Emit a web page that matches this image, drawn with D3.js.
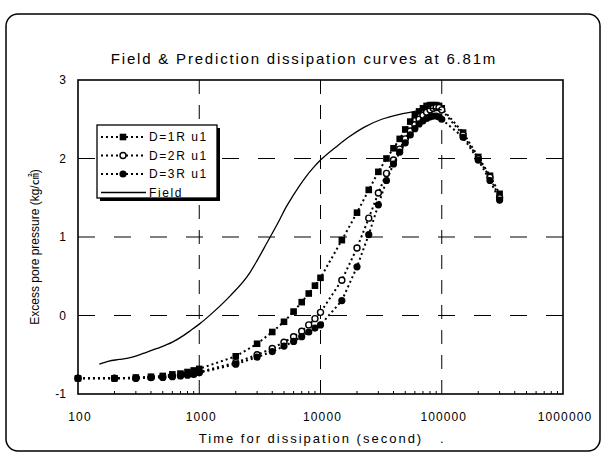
<!DOCTYPE html>
<html>
<head>
<meta charset="utf-8">
<script src="https://cdn.jsdelivr.net/npm/d3@7.9.0/dist/d3.min.js"></script>
<style>
  body { margin: 0; background: #fff; }
  svg { font-family: "Liberation Sans", Arial, sans-serif; }
</style>
</head>
<body>
<svg id="chart" width="612" height="456"></svg>
<script>
// time steps used by the prediction runs (seconds)
const times = [100, 200, 300, 400, 500, 600, 700, 800, 900, 1000,
  2000, 3000, 4000, 5000, 6000, 7000, 8000, 9000, 10000,
  15000, 20000, 25000, 30000, 35000, 40000, 45000, 50000, 55000, 60000,
  65000, 70000, 75000, 80000, 85000, 90000, 95000, 100000,
  150000, 200000, 250000, 300000];

const d1R = [-0.8, -0.8, -0.79, -0.78, -0.77, -0.75, -0.74, -0.72, -0.7, -0.68,
  -0.52, -0.36, -0.21, -0.08, 0.05, 0.17, 0.28, 0.38, 0.48,
  0.96, 1.31, 1.6, 1.83, 2.0, 2.13, 2.25, 2.37, 2.47, 2.55,
  2.6, 2.64, 2.67, 2.68, 2.68, 2.68, 2.67, 2.64,
  2.33, 2.02, 1.78, 1.55];

const d2R = [-0.8, -0.8, -0.8, -0.79, -0.78, -0.77, -0.76, -0.75, -0.74, -0.72,
  -0.6, -0.5, -0.42, -0.34, -0.27, -0.2, -0.12, -0.04, 0.04,
  0.45, 0.86, 1.24, 1.56, 1.81, 1.98, 2.12, 2.25, 2.35, 2.43,
  2.5, 2.55, 2.59, 2.62, 2.64, 2.65, 2.65, 2.62,
  2.3, 2.0, 1.76, 1.5];

const d3R = [-0.8, -0.8, -0.8, -0.79, -0.79, -0.78, -0.77, -0.76, -0.75, -0.73,
  -0.62, -0.53, -0.46, -0.39, -0.33, -0.27, -0.21, -0.16, -0.12,
  0.19, 0.62, 1.03, 1.41, 1.72, 1.93, 2.08, 2.2, 2.3, 2.38,
  2.44, 2.48, 2.51, 2.53, 2.54, 2.54, 2.53, 2.5,
  2.27, 1.98, 1.72, 1.47];

// field measurement
const fieldT = [150, 180, 220, 280, 350, 450, 600, 750, 850, 1000, 1300, 1800,
  2600, 3000, 3600, 4600, 5200, 5900, 7600, 8700, 10000, 14000, 17000, 23000,
  32000, 44000, 60000, 80000, 100000];
const fieldV = [-0.62, -0.58, -0.56, -0.53, -0.48, -0.42, -0.34, -0.25, -0.19, -0.11, 0.04, 0.25,
  0.54, 0.7, 0.92, 1.22, 1.38, 1.52, 1.77, 1.88, 1.98, 2.17, 2.27, 2.4,
  2.5, 2.56, 2.6, 2.64, 2.62];

const xTicks = [100, 1000, 10000, 100000, 1000000];
const yTicks = [-1, 0, 1, 2, 3];
const legendLabels = ['D=1R u1', 'D=2R u1', 'D=3R u1', 'Field'];

const svg = d3.select('#chart');

// outer rounded frame
svg.append('rect')
  .attr('x', 6).attr('y', 14).attr('width', 594).attr('height', 437)
  .attr('rx', 12).attr('fill', 'none').attr('stroke', '#000').attr('stroke-width', 1.5);

svg.append('text')
  .attr('x', 304).attr('y', 64)
  .attr('text-anchor', 'middle')
  .attr('font-size', 15).attr('letter-spacing', 1.8)
  .text('Field & Prediction dissipation curves at 6.81m');

const x = d3.scaleLog().domain([100, 1000000]).range([78, 563]);
const y = d3.scaleLinear().domain([-1, 3]).range([394, 80]);

// grid lines
svg.append('g').selectAll('line')
  .data(yTicks.filter(d => d > -1 && d < 3))
  .join('line')
  .attr('x1', x(100)).attr('x2', x(1000000))
  .attr('y1', d => y(d)).attr('y2', d => y(d))
  .attr('stroke', '#000').attr('stroke-width', 1)
  .attr('stroke-dasharray', '17,19');

svg.append('g').selectAll('line')
  .data(xTicks.slice(1, -1))
  .join('line')
  .attr('x1', d => x(d)).attr('x2', d => x(d))
  .attr('y1', y(3)).attr('y2', y(-1))
  .attr('stroke', '#000').attr('stroke-width', 1)
  .attr('stroke-dasharray', '14,11');

// minor ticks along the bottom axis
const minor = [];
for (let dec = 100; dec < 1000000; dec *= 10) {
  for (let k = 2; k <= 9; k++) minor.push(dec * k);
}
svg.append('g').selectAll('line')
  .data(minor)
  .join('line')
  .attr('x1', d => x(d)).attr('x2', d => x(d))
  .attr('y1', y(-1)).attr('y2', y(-1) - 3)
  .attr('stroke', '#000').attr('stroke-width', 1);

// plot frame
svg.append('rect')
  .attr('x', x(100)).attr('y', y(3))
  .attr('width', x(1000000) - x(100)).attr('height', y(-1) - y(3))
  .attr('fill', 'none').attr('stroke', '#000').attr('stroke-width', 1.6);

// tick labels
svg.append('g').selectAll('text')
  .data(xTicks)
  .join('text')
  .attr('x', d => x(d) + 2).attr('y', 421)
  .attr('text-anchor', 'middle')
  .attr('font-size', 12).attr('letter-spacing', 1.1)
  .text(d => d);

svg.append('g').selectAll('text')
  .data(yTicks)
  .join('text')
  .attr('x', 66).attr('y', d => y(d) + 4)
  .attr('text-anchor', 'end')
  .attr('font-size', 12)
  .text(d => d);

svg.append('text')
  .attr('x', 311).attr('y', 443)
  .attr('text-anchor', 'middle')
  .attr('font-size', 13).attr('letter-spacing', 2)
  .text('Time for dissipation (second)');
svg.append('text')
  .attr('x', 440).attr('y', 443)
  .attr('font-size', 13)
  .text('.');

svg.append('text')
  .attr('transform', 'translate(39,247) rotate(-90)')
  .attr('text-anchor', 'middle')
  .attr('font-size', 12)
  .style('font-family', '"Liberation Sans", Arial, "Noto Sans CJK KR", sans-serif')
  .text('Excess pore pressure (kg/㎠)');

// series
const line = d3.line().x(d => x(d[0])).y(d => y(d[1]));

const series = [
  { vals: d1R, marker: 'square' },
  { vals: d2R, marker: 'open' },
  { vals: d3R, marker: 'dot' },
];

function drawMarker(g, type, cx, cy) {
  if (type === 'square') {
    g.append('rect').attr('x', cx - 3.3).attr('y', cy - 3.3)
      .attr('width', 6.6).attr('height', 6.6).attr('fill', '#000');
  } else if (type === 'open') {
    g.append('circle').attr('cx', cx).attr('cy', cy).attr('r', 3)
      .attr('fill', '#fff').attr('stroke', '#000').attr('stroke-width', 1.4);
  } else {
    g.append('circle').attr('cx', cx).attr('cy', cy).attr('r', 3.6).attr('fill', '#000');
  }
}

series.forEach(s => {
  const pts = times.map((t, i) => [t, s.vals[i]]);
  svg.append('path')
    .attr('d', line(pts))
    .attr('fill', 'none').attr('stroke', '#000')
    .attr('stroke-width', 2).attr('stroke-dasharray', '2,3');
  const g = svg.append('g');
  pts.forEach(p => drawMarker(g, s.marker, x(p[0]), y(p[1])));
});

svg.append('path')
  .attr('d', line.curve(d3.curveMonotoneX)(fieldT.map((t, i) => [t, fieldV[i]])))
  .attr('fill', 'none').attr('stroke', '#000').attr('stroke-width', 1.3);

// legend
const lg = svg.append('g').attr('transform', 'translate(97,125)');
lg.append('rect').attr('x', 3).attr('y', 3).attr('width', 120).attr('height', 73).attr('fill', '#000');
lg.append('rect').attr('x', 0).attr('y', 0).attr('width', 120).attr('height', 73)
  .attr('fill', '#fff').attr('stroke', '#000').attr('stroke-width', 1.3);

legendLabels.forEach((lab, i) => {
  const ly = 12 + i * 18.5;
  const row = lg.append('g');
  row.append('line').attr('x1', 4).attr('x2', 49).attr('y1', ly).attr('y2', ly)
    .attr('stroke', '#000')
    .attr('stroke-width', i < 3 ? 2 : 1.3)
    .attr('stroke-dasharray', i < 3 ? '2,3' : null);
  if (i < 3) drawMarker(row, series[i].marker, 26, ly);
  row.append('text').attr('x', 52).attr('y', ly + 4)
    .attr('font-size', 12).attr('letter-spacing', 1.6)
    .text(lab);
});
</script>
</body>
</html>
